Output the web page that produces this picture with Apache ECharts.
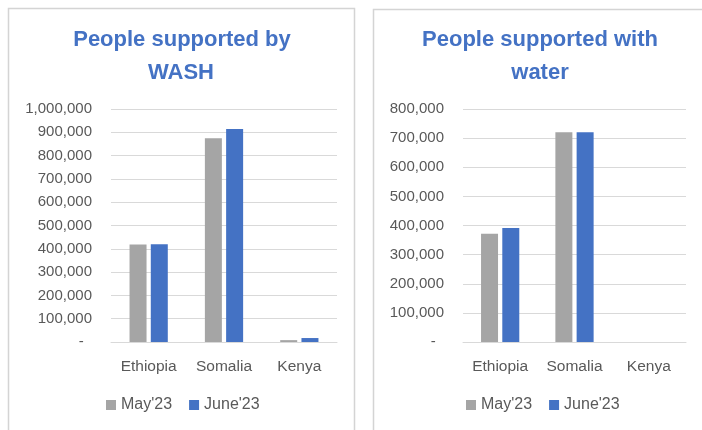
<!DOCTYPE html>
<html>
<head>
<meta charset="utf-8">
<script src="https://cdn.jsdelivr.net/npm/echarts@6/dist/echarts.min.js"></script>
<style>
html,body{margin:0;padding:0;background:#fff;}
#chart{width:702px;height:430px;}
</style>
</head>
<body>
<div id="chart"></div>
<script>
const categories = ['Ethiopia', 'Somalia', 'Kenya'];
const seriesNames = ["May'23", "June'23"];
const washMay = [418000, 874000, 8000];
const washJune = [420000, 914000, 17000];
const waterMay = [372000, 720000, 0];
const waterJune = [391000, 720000, 0];
const washTicks = {min: 0, max: 1000000, interval: 100000};
const waterTicks = {min: 0, max: 800000, interval: 100000};

const FONT = 'Liberation Sans';
const GRAY = '#A5A5A5';
const BLUE = '#4472C4';
const LABEL = '#595959';
const GRID = '#D9D9D9';

function fmt(v) {
  if (v === 0) return '-  ';
  return v.toLocaleString('en-US');
}

function yAxis(idx, ticks) {
  return {
    type: 'value', gridIndex: idx, min: ticks.min, max: ticks.max, interval: ticks.interval,
    axisLine: {show: false}, axisTick: {show: false},
    splitLine: {lineStyle: {color: GRID, width: 1}},
    axisLabel: {color: LABEL, fontFamily: FONT, fontSize: 15, margin: 19, formatter: fmt}
  };
}
function xAxis(idx) {
  return {
    type: 'category', gridIndex: idx, data: categories,
    axisLine: {lineStyle: {color: GRID, width: 1}}, axisTick: {show: false},
    axisLabel: {color: LABEL, fontFamily: FONT, fontSize: 15.5, margin: 17, interval: 0, hideOverlap: false}
  };
}
function bar(name, data, color, idx) {
  return {
    type: 'bar', name: name, data: data, xAxisIndex: idx, yAxisIndex: idx,
    barWidth: 17, barGap: '25%', itemStyle: {color: color}, silent: true
  };
}
function legend(left) {
  return {data: seriesNames, left: left, top: 397, padding: 0, itemWidth: 10, itemHeight: 10, itemGap: 17,
    icon: 'rect', textStyle: {color: LABEL, fontFamily: FONT, fontSize: 16}};
}
function titleText(x, y, text) {
  return {type: 'text', x: x, y: y, silent: true,
    style: {text: text, textAlign: 'center', textVerticalAlign: 'middle',
      font: 'bold 22px "' + FONT + '"', fill: BLUE}};
}

const chart = echarts.init(document.getElementById('chart'), null, {renderer: 'canvas'});
chart.setOption({
  animation: false,
  backgroundColor: '#fff',
  grid: [
    {left: 111, top: 109, width: 226, height: 233},
    {left: 463, top: 109, width: 223, height: 233}
  ],
  xAxis: [xAxis(0), xAxis(1)],
  yAxis: [yAxis(0, washTicks), yAxis(1, waterTicks)],
  legend: [legend(106), legend(466)],
  series: [
    bar(seriesNames[0], washMay, GRAY, 0),
    bar(seriesNames[1], washJune, BLUE, 0),
    bar(seriesNames[0], waterMay, GRAY, 1),
    bar(seriesNames[1], waterJune, BLUE, 1)
  ],
  graphic: [
    {type: 'rect', shape: {x: 8.5, y: 8.5, width: 346, height: 440}, silent: true, z: -10,
      style: {fill: 'none', stroke: '#D4D4D4', lineWidth: 1.5}},
    {type: 'rect', shape: {x: 373.5, y: 9.5, width: 340, height: 440}, silent: true, z: -10,
      style: {fill: 'none', stroke: '#D4D4D4', lineWidth: 1.5}},
    titleText(182, 40, 'People supported by'),
    titleText(181, 73, 'WASH'),
    titleText(540, 40, 'People supported with'),
    titleText(540, 73, 'water')
  ]
});
</script>
</body>
</html>
